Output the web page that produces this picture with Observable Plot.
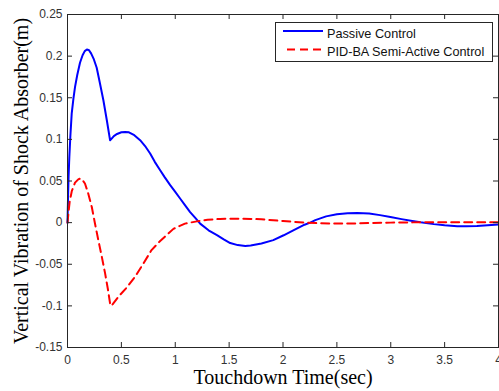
<!DOCTYPE html>
<html><head><meta charset="utf-8">
<script src="https://cdn.jsdelivr.net/npm/d3@7"></script>
<script src="https://cdn.jsdelivr.net/npm/@observablehq/plot@0.6"></script>
<style>
html,body{margin:0;padding:0;background:#fff}
#chart{width:499px;height:391px;overflow:hidden}
svg{display:block}
</style>
</head><body><div id="chart"></div>
<script>
const seriesNames = ["Passive Control", "PID-BA Semi-Active Control"];
const seriesColors = ["#0000ff", "#ff0000"];

const passiveTime = [0,0.005,0.01,0.017,0.027,0.039,0.055,0.07,0.09,0.116,0.14,0.16,0.18,0.2,0.22,0.245,0.271,0.3,0.333,0.365,0.395,0.41,0.43,0.46,0.5,0.535,0.57,0.62,0.674,0.72,0.767,0.81,0.86,0.9,0.953,1.0,1.045,1.09,1.138,1.19,1.231,1.309,1.387,1.45,1.51,1.58,1.65,1.7,1.8,1.91,2.006,2.1,2.2,2.253,2.3,2.4,2.5,2.6,2.69,2.8,2.9,2.997,3.1,3.2,3.276,3.4,3.5,3.617,3.7,3.8,3.9,4.0];
const passiveValue = [0,0.03,0.055,0.079,0.105,0.131,0.149,0.163,0.177,0.192,0.201,0.206,0.208,0.207,0.203,0.196,0.186,0.168,0.147,0.123,0.099,0.101,0.104,0.1065,0.1085,0.109,0.1085,0.105,0.099,0.092,0.083,0.073,0.063,0.055,0.045,0.037,0.029,0.021,0.0127,0.005,-0.0012,-0.0092,-0.015,-0.02,-0.0245,-0.027,-0.028,-0.0275,-0.025,-0.021,-0.0152,-0.009,-0.0025,0,0.003,0.0075,0.01,0.0113,0.0115,0.011,0.009,0.0067,0.0042,0.002,0.0004,-0.0018,-0.0032,-0.0044,-0.0045,-0.004,-0.0032,-0.0024];

const semiTime = [0,0.01,0.02,0.04,0.07,0.1,0.12,0.14,0.162,0.19,0.225,0.255,0.286,0.32,0.349,0.375,0.395,0.405,0.42,0.472,0.55,0.627,0.7,0.78,0.86,0.937,0.983,1.09,1.2,1.3,1.417,1.5,1.6,1.7,1.8,1.91,2.0,2.1,2.22,2.35,2.5,2.65,2.8,3.0,3.2,3.4,3.6,3.8,4.0];
const semiValue = [0,0.013,0.025,0.038,0.048,0.052,0.053,0.051,0.047,0.036,0.019,-0.001,-0.021,-0.042,-0.061,-0.08,-0.097,-0.1,-0.098,-0.089,-0.078,-0.065,-0.05,-0.033,-0.022,-0.013,-0.0075,-0.0012,0.0015,0.0035,0.0045,0.0048,0.0048,0.0045,0.004,0.0028,0.002,0.001,0,-0.0008,-0.0012,-0.001,-0.0004,0,0.0003,0.0004,0.0004,0.0004,0.0004];

const xTicks = [0, 0.5, 1, 1.5, 2, 2.5, 3, 3.5, 4];
const yTicks = [-0.15, -0.1, -0.05, 0, 0.05, 0.1, 0.15, 0.2, 0.25];
const xLabel = "Touchdown Time(sec)";
const yLabel = "Vertical Vibration of Shock Absorber(m)";

const passive = passiveTime.map((t, i) => ({t, v: passiveValue[i]}));
const semi = semiTime.map((t, i) => ({t, v: semiValue[i]}));

const W = 499, H = 391, mL = 67, mR = 1, mT = 14, mB = 44;
const innerW = W - mL - mR, innerH = H - mT - mB;
const tickLen = 5;
const axisColor = "#262626";
const sans = "'Liberation Sans', Arial, Helvetica, sans-serif";
const serif = "'Liberation Serif', 'Times New Roman', Times, serif";
const fmt = d => String(d);

const chart = Plot.plot({
  width: W, height: H,
  marginLeft: mL, marginRight: mR, marginTop: mT, marginBottom: mB,
  style: {fontFamily: sans, fontSize: "12px", background: "#fff"},
  x: {domain: [0, 4]},
  y: {domain: [-0.15, 0.25]},
  marks: [
    Plot.line(passive, {x: "t", y: "v", stroke: seriesColors[0], strokeWidth: 2}),
    Plot.line(semi, {x: "t", y: "v", stroke: seriesColors[1], strokeWidth: 2, strokeDasharray: "8,5"}),
    Plot.frame({stroke: axisColor, strokeWidth: 1}),
    Plot.tickX(xTicks, {x: d => d, insetTop: innerH - tickLen, stroke: axisColor}),
    Plot.tickX(xTicks, {x: d => d, insetBottom: innerH - tickLen, stroke: axisColor}),
    Plot.tickY(yTicks, {y: d => d, insetRight: innerW - tickLen, stroke: axisColor}),
    Plot.tickY(yTicks, {y: d => d, insetLeft: innerW - tickLen, stroke: axisColor}),
    Plot.axisX(xTicks, {tickSize: 0, tickPadding: 8, tickFormat: fmt, fill: "#333", fontSize: 12, label: null}),
    Plot.axisY(yTicks, {tickSize: 0, tickPadding: 5, tickFormat: fmt, fill: "#333", fontSize: 12, label: null}),
    Plot.text([xLabel], {text: d => d, frameAnchor: "bottom", textAnchor: "middle", lineAnchor: "bottom", dy: 36, fontSize: 20, fontFamily: serif, fill: "#000"}),
    Plot.text([yLabel], {text: d => d, frameAnchor: "left", textAnchor: "middle", rotate: -90, lineAnchor: "top", dx: -54, fontSize: 20, fontFamily: serif, fill: "#000"})
  ]
});

// Legend inside the plot area (upper right)
const svg = d3.select(chart);
const lg = svg.append("g").attr("class", "legend")
  .attr("font-family", sans).attr("font-size", "12.7px").attr("text-anchor", "start");
lg.append("rect").attr("x", 275.5).attr("y", 22.5).attr("width", 217).attr("height", 39)
  .attr("fill", "#fff").attr("stroke", axisColor).attr("stroke-width", 1);
const rows = [
  {name: seriesNames[0], color: seriesColors[0], dash: null, x1: 283, y: 31, ty: 38},
  {name: seriesNames[1], color: seriesColors[1], dash: "8,5", x1: 287, y: 49.5, ty: 56}
];
rows.forEach(r => {
  const ln = lg.append("line").attr("x1", r.x1).attr("x2", 323).attr("y1", r.y).attr("y2", r.y)
    .attr("stroke", r.color).attr("stroke-width", 2);
  if (r.dash) ln.attr("stroke-dasharray", r.dash);
  lg.append("text").attr("x", 327).attr("y", r.ty).attr("text-anchor", "start").attr("fill", "#111").text(r.name);
});

document.getElementById("chart").appendChild(chart);
</script>
</body></html>
